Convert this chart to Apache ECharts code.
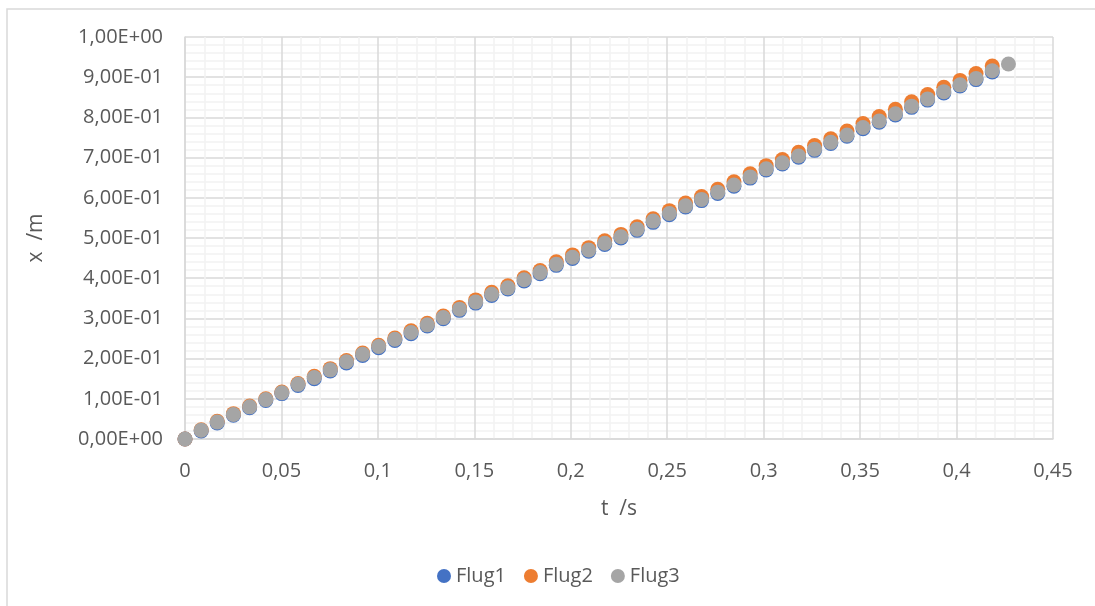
<!DOCTYPE html>
<html>
<head>
<meta charset="utf-8">
<script src="https://cdn.jsdelivr.net/npm/echarts@6/dist/echarts.min.js"></script>
<style>
html,body{margin:0;padding:0;background:#fff;}
#chart{width:1095px;height:606px;}
</style>
</head>
<body>
<div id="chart"></div>
<script>
// time values (s)
var t = [0,0.0084,0.0167,0.0251,0.0335,0.0419,0.0502,0.0586,0.0670,0.0753,0.0837,0.0921,0.1004,0.1088,0.1172,0.1256,0.1339,0.1423,0.1507,0.1590,0.1674,0.1758,0.1841,0.1925,0.2009,0.2093,0.2176,0.2260,0.2344,0.2427,0.2511,0.2595,0.2678,0.2762,0.2846,0.2930,0.3013,0.3097,0.3181,0.3264,0.3348,0.3432,0.3515,0.3599,0.3683,0.3767,0.3850,0.3934,0.4018,0.4101,0.4185,0.4269];
var flug1 = [0,0.020,0.040,0.059,0.078,0.096,0.113,0.133,0.150,0.169,0.189,0.208,0.227,0.245,0.262,0.281,0.299,0.320,0.338,0.357,0.373,0.393,0.411,0.432,0.449,0.467,0.484,0.500,0.519,0.539,0.558,0.577,0.593,0.611,0.629,0.649,0.669,0.684,0.701,0.718,0.735,0.753,0.772,0.788,0.806,0.825,0.843,0.861,0.878,0.894,0.913];
var flug2 = [0,0.023,0.044,0.063,0.082,0.100,0.117,0.138,0.156,0.175,0.195,0.214,0.233,0.251,0.269,0.288,0.306,0.327,0.346,0.365,0.381,0.401,0.419,0.441,0.458,0.476,0.493,0.509,0.528,0.548,0.568,0.587,0.603,0.621,0.640,0.660,0.680,0.695,0.713,0.730,0.747,0.766,0.785,0.802,0.820,0.839,0.857,0.875,0.892,0.909,0.928];
var flug3 = [0,0.022,0.042,0.061,0.080,0.098,0.115,0.136,0.153,0.172,0.192,0.211,0.230,0.248,0.265,0.284,0.302,0.323,0.341,0.360,0.376,0.396,0.414,0.435,0.452,0.470,0.487,0.503,0.522,0.542,0.561,0.580,0.596,0.614,0.632,0.652,0.672,0.687,0.704,0.721,0.738,0.756,0.775,0.791,0.809,0.828,0.846,0.864,0.881,0.897,0.916,0.933];
var seriesNames = ['Flug1','Flug2','Flug3'];
var xTickLabels = ['0','0,05','0,1','0,15','0,2','0,25','0,3','0,35','0,4','0,45'];
var yTickLabels = ['0,00E+00','1,00E-01','2,00E-01','3,00E-01','4,00E-01','5,00E-01','6,00E-01','7,00E-01','8,00E-01','9,00E-01','1,00E+00'];
var xTitle = 't  /s';
var yTitle = 'x  /m';

function pairs(ys){ return ys.map(function(v,i){ return [t[i], v]; }); }

var FONT = '"Open Sans", "Noto Sans", sans-serif';
var TXT = '#595959';
var chart = echarts.init(document.getElementById('chart'), null, {renderer:'canvas'});
var colors = ['#4472C4','#ED7D31','#A5A5A5'];
var data = [flug1, flug2, flug3];

chart.setOption({
  animation:false,
  backgroundColor:'#fff',
  color: colors,
  graphic:[{type:'rect', shape:{x:7,y:9,width:1200,height:700}, style:{fill:'none', stroke:'#d9d9d9', lineWidth:1.5}, silent:true, z:-1}],
  grid:{left:185, right:42, top:37, bottom:167, containLabel:false},
  legend:{
    data: seriesNames, left:432, top:561, icon:'circle', itemWidth:14, itemHeight:14, itemGap:18,
    textStyle:{color:TXT, fontFamily:FONT, fontSize:20}
  },
  xAxis:{
    type:'value', min:0, max:0.45, interval:0.05,
    name:xTitle, nameLocation:'middle', nameGap:60,
    nameTextStyle:{color:TXT, fontFamily:FONT, fontSize:21},
    axisLine:{show:true, lineStyle:{color:'#d9d9d9', width:1.5}},
    axisTick:{show:false},
    axisLabel:{color:TXT, fontFamily:FONT, fontSize:20, margin:22,
      formatter:function(v){ return xTickLabels[Math.round(v/0.05)]; }},
    splitLine:{show:true, lineStyle:{color:'#d9d9d9', width:1.5}},
    minorTick:{show:false, splitNumber:5},
    minorSplitLine:{show:true, lineStyle:{color:'#f2f2f2', width:1.5}}
  },
  yAxis:{
    type:'value', min:0, max:1, interval:0.1,
    name:yTitle, nameLocation:'middle', nameGap:138, nameRotate:90,
    nameTextStyle:{color:TXT, fontFamily:FONT, fontSize:21},
    axisLine:{show:true, lineStyle:{color:'#d9d9d9', width:1.5}},
    axisTick:{show:false},
    axisLabel:{color:TXT, fontFamily:FONT, fontSize:20, margin:22,
      formatter:function(v){ return yTickLabels[Math.round(v/0.1)]; }},
    splitLine:{show:true, lineStyle:{color:'#d9d9d9', width:1.5}},
    minorTick:{show:false, splitNumber:5},
    minorSplitLine:{show:true, lineStyle:{color:'#f2f2f2', width:1.5}}
  },
  series: seriesNames.map(function(n,i){
    return {name:n, type:'scatter', symbol:'circle', symbolSize:15, data:pairs(data[i]), z:2+i,
      itemStyle:{color:colors[i], opacity:1}};
  })
});
</script>
</body>
</html>
